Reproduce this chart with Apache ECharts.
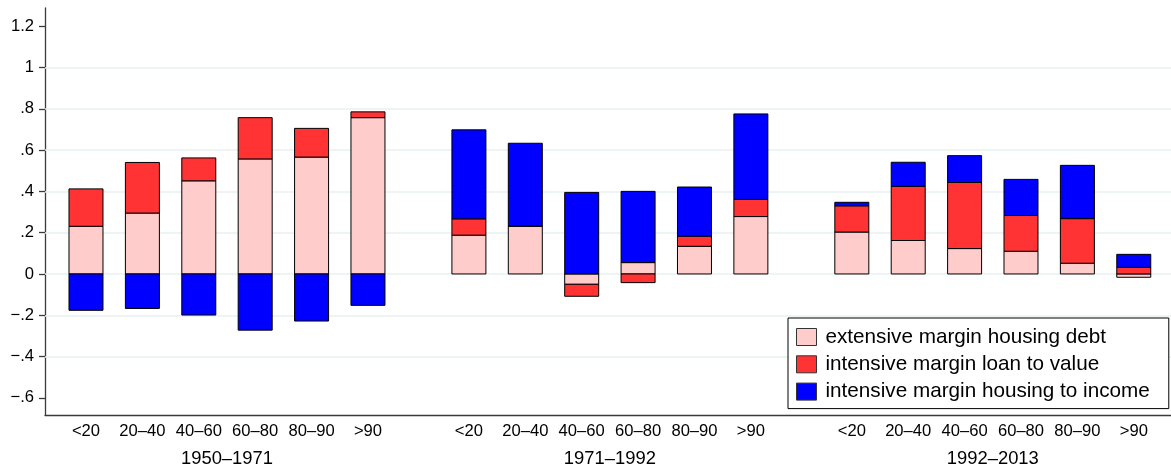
<!DOCTYPE html>
<html>
<head>
<meta charset="utf-8">
<title>Housing debt decomposition by income group</title>
<script src="https://cdn.jsdelivr.net/npm/echarts@6/dist/echarts.min.js"></script>
<style>
  html, body { margin: 0; padding: 0; background: #fff; }
  #chart { width: 1171px; height: 468px; }
</style>
</head>
<body>
<div id="chart"></div>
<script>
// Income groups (bars inside each period) and the three periods
const categories = ['<20', '20–40', '40–60', '60–80', '80–90', '>90'];
const periods = ['1950–1971', '1971–1992', '1992–2013'];

// Contributions per bar, period by period (6 income groups each)
const extensiveHousingDebt = [
  0.231, 0.295, 0.451, 0.557, 0.566, 0.757,
  0.188, 0.232, -0.050, 0.055, 0.134, 0.278,
  0.203, 0.162, 0.123, 0.110, 0.052, -0.016
];
const intensiveLoanToValue = [
  0.181, 0.245, 0.111, 0.200, 0.139, 0.028,
  0.079, 0.000, -0.058, -0.042, 0.049, 0.083,
  0.127, 0.262, 0.320, 0.173, 0.216, 0.032
];
const intensiveHousingToIncome = [
  -0.176, -0.167, -0.199, -0.272, -0.228, -0.152,
  0.431, 0.401, 0.395, 0.345, 0.238, 0.414,
  0.017, 0.117, 0.130, 0.175, 0.258, 0.063
];

// Y axis ticks and their labels
const yTickValues = [-0.6, -0.4, -0.2, 0, 0.2, 0.4, 0.6, 0.8, 1, 1.2];
const yTickLabels = ['−.6', '−.4', '−.2', '0', '.2', '.4', '.6', '.8', '1', '1.2'];
const yGridValues = [-0.4, -0.2, 0, 0.2, 0.4, 0.6, 0.8, 1];

const seriesNames = [
  'extensive margin housing debt',
  'intensive margin loan to value',
  'intensive margin housing to income'
];
const seriesColors = ['#FFCCCC', '#FF3333', '#0000FF'];
const seriesValues = [extensiveHousingDebt, intensiveLoanToValue, intensiveHousingToIncome];

// Bars sit on a numeric x axis: one unit per bar, a wider gap between periods
const GROUP_STEP = 6.79;
const X_MIN = -0.727, X_MAX = 19.24;
const BAR_WIDTH = 34;
const nCat = categories.length;

const barPos = [];
const barLabelByKey = {};
periods.forEach((p, g) => {
  categories.forEach((c, i) => {
    const x = +(g * GROUP_STEP + i).toFixed(3);
    barPos.push(x);
    barLabelByKey[x.toFixed(3)] = c;
  });
});
const groupCenters = periods.map((p, g) => +(g * GROUP_STEP + (nCat - 1) / 2).toFixed(3));
const groupLabelByKey = {};
groupCenters.forEach((x, g) => { groupLabelByKey[x.toFixed(3)] = periods[g]; });

const yLabelByKey = {};
yTickValues.forEach((v, i) => { yLabelByKey[v.toFixed(2)] = yTickLabels[i]; });

// Stack the components: positives pile up from 0, negatives pile down from 0
const segments = seriesValues.map(() => []);
barPos.forEach((x, k) => {
  let up = 0, down = 0;
  seriesValues.forEach((vals, s) => {
    const v = vals[k];
    let start, end;
    if (v >= 0) { start = up; end = up + v; up = end; }
    else { start = down; end = down + v; down = end; }
    segments[s].push([x, start, end]);
  });
});

const FONT = '"Liberation Sans", Arial, Helvetica, sans-serif';
const AXIS_COLOR = '#3a3a3a';

function renderSegment(params, api) {
  const x = api.value(0);
  const p0 = api.coord([x, api.value(1)]);
  const p1 = api.coord([x, api.value(2)]);
  const top = Math.min(p0[1], p1[1]);
  const h = Math.abs(p1[1] - p0[1]);
  return {
    type: 'rect',
    shape: { x: p0[0] - BAR_WIDTH / 2, y: top, width: BAR_WIDTH, height: h },
    style: { fill: api.visual('color'), stroke: '#000', lineWidth: 1 }
  };
}

function segmentSeries(s) {
  return {
    name: seriesNames[s],
    type: 'custom',
    xAxisIndex: 0,
    yAxisIndex: 0,
    z: 3,
    silent: true,
    itemStyle: { color: seriesColors[s], borderColor: '#000', borderWidth: 1 },
    encode: { x: 0, y: [1, 2] },
    renderItem: renderSegment,
    data: segments[s]
  };
}

const chart = echarts.init(document.getElementById('chart'), null, { renderer: 'canvas' });

chart.setOption({
  animation: false,
  backgroundColor: '#fff',
  textStyle: { fontFamily: FONT },
  grid: { left: 45, right: 0, top: 8, bottom: 53, containLabel: false },
  legend: {
    data: seriesNames,
    orient: 'vertical',
    left: 788,
    top: 318,
    padding: [7, 19, 5, 8],
    itemWidth: 20,
    itemHeight: 17,
    itemGap: 3.3,
    backgroundColor: '#fff',
    borderColor: '#000',
    borderWidth: 1,
    icon: 'rect',
    itemStyle: { borderColor: '#333', borderWidth: 1 },
    textStyle: { fontFamily: FONT, fontSize: 20.7, color: '#000', lineHeight: 24, padding: [0, 0, 0, 4] },
    selectedMode: false
  },
  xAxis: [
    {
      type: 'value',
      position: 'bottom',
      min: X_MIN,
      max: X_MAX,
      axisLine: { show: true, onZero: false, lineStyle: { color: AXIS_COLOR, width: 1.3 } },
      axisTick: { show: false },
      splitLine: { show: false },
      axisLabel: {
        customValues: barPos,
        margin: 8,
        fontFamily: FONT,
        fontSize: 16.6,
        color: '#000',
        formatter: v => barLabelByKey[(+v).toFixed(3)] || ''
      }
    },
    {
      type: 'value',
      position: 'bottom',
      min: X_MIN,
      max: X_MAX,
      axisLine: { show: false },
      axisTick: { show: false },
      splitLine: { show: false },
      axisLabel: {
        customValues: groupCenters,
        margin: 35,
        fontFamily: FONT,
        fontSize: 18.4,
        color: '#000',
        formatter: v => groupLabelByKey[(+v).toFixed(3)] || ''
      }
    }
  ],
  yAxis: {
    type: 'value',
    min: -0.683,
    max: 1.288,
    axisLine: { show: true, onZero: false, lineStyle: { color: AXIS_COLOR, width: 1.3 } },
    axisTick: { show: true, customValues: yTickValues, length: 6, inside: false, lineStyle: { color: AXIS_COLOR, width: 1.3 } },
    splitLine: { show: false },
    axisLabel: {
      customValues: yTickValues,
      margin: 11,
      fontFamily: FONT,
      fontSize: 16.6,
      color: '#000',
      formatter: v => yLabelByKey[(+v).toFixed(2)] || ''
    }
  },
  series: [
    {
      // horizontal grid lines behind the bars
      type: 'line',
      xAxisIndex: 0,
      yAxisIndex: 0,
      data: [],
      z: 1,
      silent: true,
      markLine: {
        silent: true,
        z: 1,
        symbol: ['none', 'none'],
        label: { show: false },
        lineStyle: { color: '#E8EFF1', width: 1.5, type: 'solid' },
        emphasis: { disabled: true },
        data: yGridValues.map(v => ({ yAxis: v }))
      }
    },
    segmentSeries(0),
    segmentSeries(1),
    segmentSeries(2)
  ]
});
</script>
</body>
</html>
